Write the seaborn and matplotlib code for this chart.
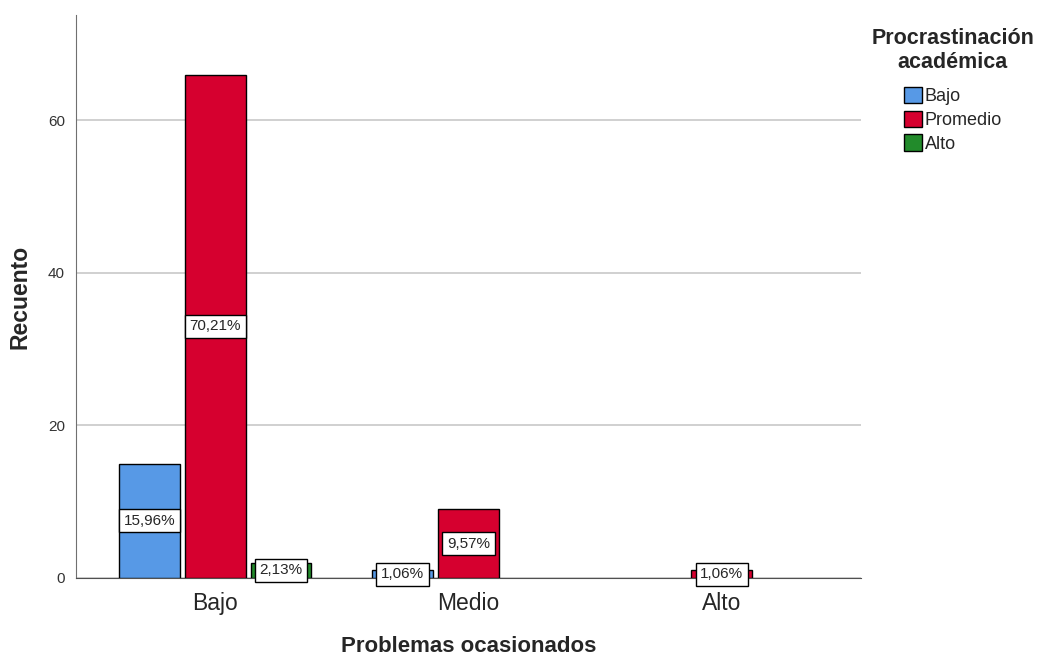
import matplotlib
matplotlib.use("Agg")
import matplotlib.pyplot as plt
import seaborn as sns
import pandas as pd

# --- Data ---
problemas = ["Bajo", "Medio", "Alto"]
niveles = ["Bajo", "Promedio", "Alto"]
cuenta_bajo = [15, 1, 0]
cuenta_promedio = [66, 9, 1]
cuenta_alto = [2, 0, 0]
colores = ["#5799E6", "#D6002F", "#228B2B"]

rows = []
for nivel, cuentas in zip(niveles, [cuenta_bajo, cuenta_promedio, cuenta_alto]):
    for prob, c in zip(problemas, cuentas):
        rows.append({"Problemas ocasionados": prob, "Procrastinación": nivel, "Recuento": c})
df = pd.DataFrame(rows)
total = df["Recuento"].sum()

# --- Plot ---
sns.set_style("white")
plt.rcParams['font.family'] = ['Liberation Sans', 'DejaVu Sans']

fig = plt.figure(figsize=(10.42, 6.55), dpi=100)
ax = fig.add_axes([0.0729, 0.1176, 0.7534, 0.8594])

sns.barplot(data=df, x="Problemas ocasionados", y="Recuento", hue="Procrastinación",
            order=problemas, hue_order=niveles, palette=colores,
            width=0.78, gap=0.08, edgecolor="black", linewidth=1.0,
            saturation=1, ax=ax, zorder=3)

# percentage labels in the middle of each bar
for container in ax.containers:
    for bar in container:
        h = bar.get_height()
        if h <= 0:
            bar.set_visible(False)
            continue
        pct = f"{100 * h / total:.2f}%".replace(".", ",")
        ax.text(bar.get_x() + bar.get_width() / 2, h / 2, pct,
                ha="center", va="center", fontsize=11, zorder=5,
                bbox=dict(boxstyle="square,pad=0.3", fc="white", ec="black", lw=1.0))

ax.set_xlim(-0.55, 2.55)
ax.set_ylim(0, 73.8)
ax.set_yticks([0, 20, 40, 60])
ax.yaxis.grid(True, color="#C8C8C8", linewidth=1.2, zorder=0)
ax.set_axisbelow(True)
for s in ["top", "right"]:
    ax.spines[s].set_visible(False)
ax.spines["left"].set_color("#707070")
ax.spines["bottom"].set_color("#505050")
ax.tick_params(axis="y", labelsize=11, colors="#333333", length=0, pad=8)
ax.tick_params(axis="x", labelsize=16.5, length=0, pad=10)
ax.set_xlabel("Problemas ocasionados", fontsize=16, fontweight="bold")
ax.set_ylabel("Recuento", fontsize=16.5, fontweight="bold")
ax.xaxis.set_label_coords(0.5, -0.103)
ax.yaxis.set_label_coords(-0.056, 0.5)

leg = ax.legend(title="Procrastinación\nacadémica", loc="upper left",
                bbox_to_anchor=(1.004, 0.99), frameon=False, fontsize=13,
                title_fontproperties={"weight": "bold", "size": 15.5},
                handlelength=1.0, handleheight=1.0, handletextpad=0.15,
                labelspacing=0.3, borderaxespad=0)
leg._legend_box.align = "center"
leg._legend_box.sep = 10
leg.get_title().set_multialignment("center")
for h in leg.legend_handles:
    h.set_edgecolor("black")

fig.savefig("out.png", dpi=100)
